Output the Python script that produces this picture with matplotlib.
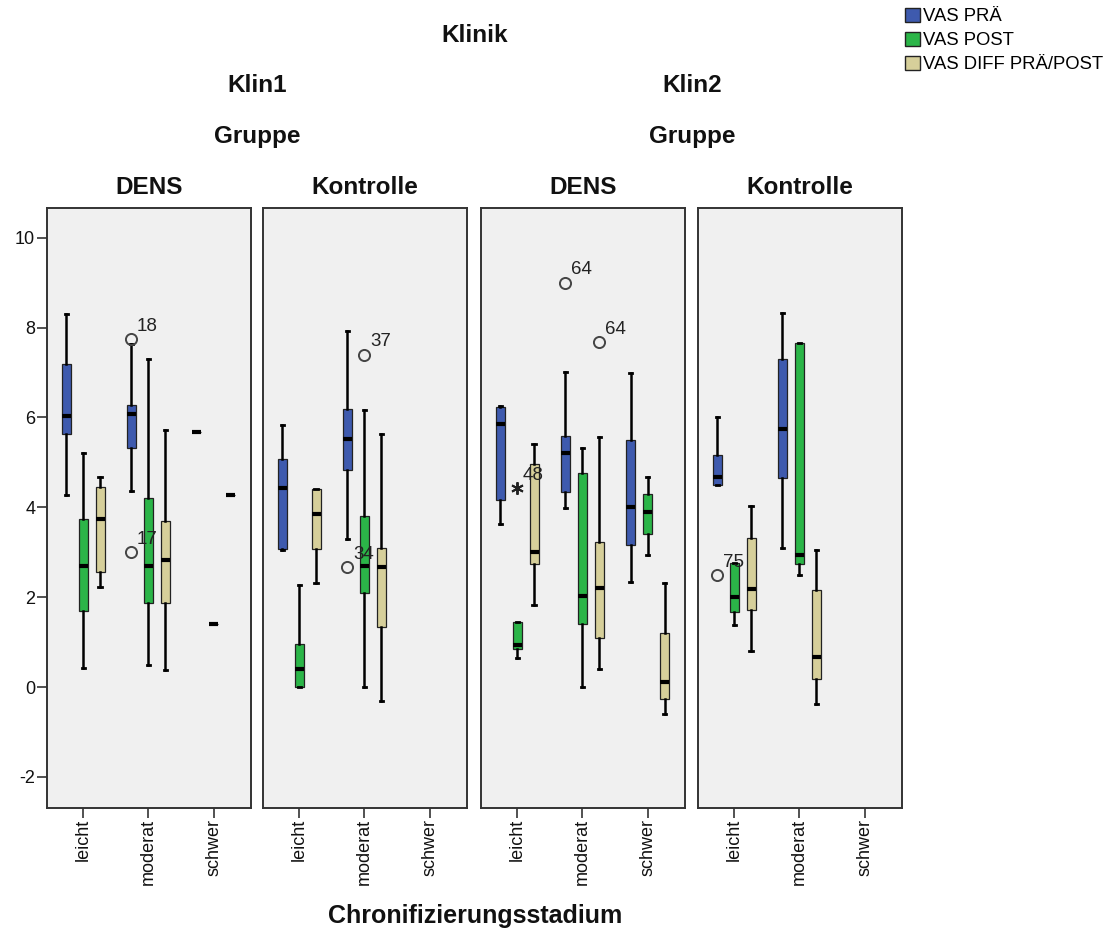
import matplotlib
matplotlib.use("Agg")
import matplotlib.pyplot as plt
from matplotlib.patches import Patch

plt.rcParams['font.family'] = ['Liberation Sans', 'DejaVu Sans']

# Categories on the x axis of every panel
categories = ["leicht", "moderat", "schwer"]
series_names = ["VAS PRÄ", "VAS POST", "VAS DIFF PRÄ/POST"]
series_colors = ["#3E5AAE", "#2BB548", "#D6CF9A"]

# Panel headers
klinik_labels = ["Klin1", "Klin2"]
gruppe_labels = ["DENS", "Kontrolle"]

# Five-number summaries per category: (whisker low, Q1, median, Q3, whisker high)
# Klin1 / DENS
k1_dens_pra  = [(4.27, 5.63, 6.04, 7.18, 8.30), (4.36, 5.31, 6.07, 6.27, 7.64), (5.67, 5.67, 5.67, 5.67, 5.67)]
k1_dens_post = [(0.42, 1.69, 2.69, 3.74, 5.20), (0.50, 1.88, 2.69, 4.21, 7.30), (1.41, 1.41, 1.41, 1.41, 1.41)]
k1_dens_diff = [(2.23, 2.55, 3.73, 4.45, 4.67), (0.37, 1.88, 2.82, 3.70, 5.71), (4.27, 4.27, 4.27, 4.27, 4.27)]
# Klin1 / Kontrolle
k1_kontr_pra  = [(3.04, 3.07, 4.42, 5.07, 5.83), (3.30, 4.84, 5.51, 6.19, 7.93), None]
k1_kontr_post = [(0.00, 0.00, 0.40, 0.97, 2.27), (0.00, 2.10, 2.70, 3.81, 6.17), None]
k1_kontr_diff = [(2.31, 3.07, 3.85, 4.41, 4.41), (-0.31, 1.34, 2.67, 3.10, 5.64), None]
# Klin2 / DENS
k2_dens_pra  = [(3.63, 4.17, 5.86, 6.24, 6.26), (3.99, 4.33, 5.20, 5.59, 7.02), (2.33, 3.17, 4.01, 5.49, 6.99)]
k2_dens_post = [(0.64, 0.84, 0.93, 1.44, 1.44), (0.00, 1.41, 2.03, 4.76, 5.33), (2.93, 3.41, 3.90, 4.29, 4.67)]
k2_dens_diff = [(1.83, 2.73, 3.01, 4.96, 5.40), (0.41, 1.10, 2.20, 3.22, 5.57), (-0.59, -0.26, 0.11, 1.21, 2.32)]
# Klin2 / Kontrolle
k2_kontr_pra  = [(4.49, 4.49, 4.67, 5.17, 6.01), (3.10, 4.66, 5.75, 7.30, 8.33), None]
k2_kontr_post = [(1.38, 1.67, 2.00, 2.76, 2.76), (2.49, 2.73, 2.93, 7.65, 7.65), None]
k2_kontr_diff = [(0.81, 1.72, 2.18, 3.32, 4.03), (-0.38, 0.18, 0.66, 2.16, 3.04), None]

panels = [
    [k1_dens_pra, k1_dens_post, k1_dens_diff],
    [k1_kontr_pra, k1_kontr_post, k1_kontr_diff],
    [k2_dens_pra, k2_dens_post, k2_dens_diff],
    [k2_kontr_pra, k2_kontr_post, k2_kontr_diff],
]
panel_titles = ["DENS", "Kontrolle", "DENS", "Kontrolle"]

# Outliers: (panel, category index, series index, value, case label, marker)
outliers = [
    (0, 1, 0, 7.74, "18", "o"),
    (0, 1, 0, 3.01, "17", "o"),
    (1, 1, 0, 2.67, "34", "o"),
    (1, 1, 1, 7.40, "37", "o"),
    (2, 0, 1, 4.42, "48", "*"),
    (2, 1, 0, 9.00, "64", "o"),
    (2, 1, 2, 7.68, "64", "o"),
    (3, 0, 0, 2.49, "75", "o"),
]

yticks = [-2, 0, 2, 4, 6, 8, 10]

fig = plt.figure(figsize=(11.09, 9.33), dpi=100)
W, H = 1109.0, 933.0
panel_left = [47, 263, 481, 698]
panel_w = 204
panel_top, panel_bottom = 208, 808

offsets = [-0.26, 0.0, 0.26]
box_w = 0.14
for p, series_list in enumerate(panels):
    ax = fig.add_axes([panel_left[p] / W, 1 - panel_bottom / H, panel_w / W,
                       (panel_bottom - panel_top) / H])
    ax.set_facecolor("#F0F0F0")
    for s, stats_list in enumerate(series_list):
        for c, st in enumerate(stats_list):
            if st is None:
                continue
            lo, q1, med, q3, hi = st
            stats = [dict(whislo=lo, q1=q1, med=med, q3=q3, whishi=hi, fliers=[])]
            ax.bxp(stats, positions=[c + offsets[s]], widths=box_w, patch_artist=True,
                   showfliers=False, capwidths=0.05,
                   boxprops=dict(facecolor=series_colors[s], edgecolor="#222222", linewidth=0.9),
                   medianprops=dict(color="black", linewidth=3.0, solid_capstyle="butt"),
                   whiskerprops=dict(color="black", linewidth=1.8),
                   capprops=dict(color="black", linewidth=2.0))
    for (pp, c, s, v, lab, mk) in outliers:
        if pp != p:
            continue
        x = c + offsets[s]
        if mk == "o":
            ax.plot(x, v, marker="o", ms=8, mfc="none", mec="#444444", mew=1.4)
        else:
            ax.plot(x, v, marker=(6, 2, 0), ms=9, color="#222222", mew=1.4)
        ax.annotate(lab, (x, v), xytext=(4, 3), textcoords="offset points",
                    ha="left", va="bottom", fontsize=13.5, color="#222222")
    ax.set_xlim(-0.554, 2.574)
    ax.set_ylim(-2.69, 10.66)
    ax.set_xticks(range(len(categories)))
    ax.set_xticklabels(categories, rotation=90, fontsize=13, color="#111111")
    ax.tick_params(axis="x", length=7, width=1.2, color="#333333", pad=1)
    if p == 0:
        ax.set_yticks(yticks)
        ax.set_yticklabels([str(t) for t in yticks], fontsize=13, color="#111111")
        ax.tick_params(axis="y", length=7, width=1.2, color="#333333", pad=1.5)
    else:
        ax.set_yticks([])
    for sp in ax.spines.values():
        sp.set_color("#333333")
        sp.set_linewidth(1.4)
    ax.text(0.5, 1 + (208 - 188) / (panel_bottom - panel_top), panel_titles[p],
            transform=ax.transAxes, ha="center", va="center",
            fontsize=17.5, fontweight="bold", color="#111111")

# Nested facet headers
def fig_text(xpx, ypx, s, **kw):
    fig.text(xpx / W, 1 - ypx / H, s, ha="center", va="center", color="#111111", **kw)

fig_text(475, 35, "Klinik", fontsize=17.5, fontweight="bold")
fig_text(257, 86, klinik_labels[0], fontsize=17.5, fontweight="bold")
fig_text(692, 86, klinik_labels[1], fontsize=17.5, fontweight="bold")
fig_text(257, 136, "Gruppe", fontsize=17.5, fontweight="bold")
fig_text(692, 136, "Gruppe", fontsize=17.5, fontweight="bold")

fig_text(475, 916, "Chronifizierungsstadium", fontsize=18, fontweight="bold")

handles = [Patch(facecolor=c, edgecolor="#222222", linewidth=1.0) for c in series_colors]
fig.legend(handles, series_names, loc="upper left", bbox_to_anchor=(905 / W, 1 - 8 / H),
           frameon=False, fontsize=13.3, handlelength=0.8, handleheight=0.8,
           handletextpad=0.2, labelspacing=0.35, borderaxespad=0, borderpad=0)

fig.savefig("out.png", dpi=100, facecolor="white")
